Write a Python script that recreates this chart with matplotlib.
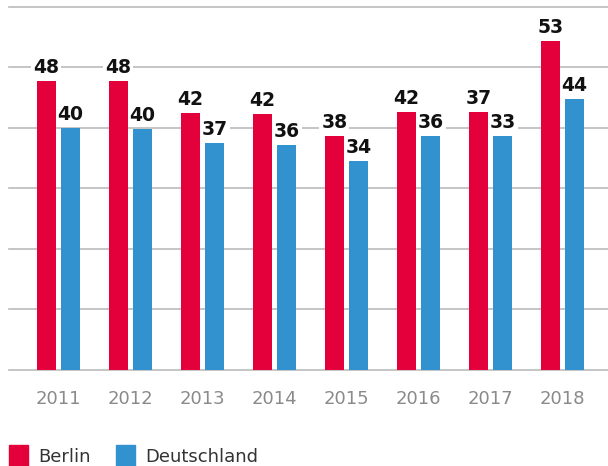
import numpy as np
import matplotlib.pyplot as plt
from matplotlib.patches import Rectangle

jahre = ['2011', '2012', '2013', '2014', '2015', '2016', '2017', '2018']
# Balkenhöhen
berlin_hoehe = [47.7, 47.7, 42.4, 42.2, 38.6, 42.6, 42.6, 54.3]
deutschland_hoehe = [40.0, 39.8, 37.5, 37.1, 34.5, 38.6, 38.6, 44.7]
# Beschriftungen über den Balken
berlin_label = ['48', '48', '42', '42', '38', '42', '37', '53']
deutschland_label = ['40', '40', '37', '36', '34', '36', '33', '44']

rot = '#e4003a'
blau = '#3292d0'

W, H = 608, 466
fig = plt.figure(figsize=(W/100, H/100), dpi=100)
ax = fig.add_axes([9/W, (H-370)/H, (W-9)/W, (370-6.7)/H])

x = np.arange(len(jahre))
b = 0.264
off = 0.168

ax.bar(x - off, berlin_hoehe, width=b, color=rot, zorder=3)
ax.bar(x + off, deutschland_hoehe, width=b, color=blau, zorder=3)

for i in range(len(jahre)):
    ax.text(x[i] - off, berlin_hoehe[i] + 0.7, berlin_label[i], ha='center', va='bottom',
            fontsize=13.5, fontweight='bold', color='#111111', zorder=2.5,
            bbox=dict(facecolor='white', edgecolor='none', pad=1.5))
    ax.text(x[i] + off, deutschland_hoehe[i] + 0.7, deutschland_label[i], ha='center', va='bottom',
            fontsize=13.5, fontweight='bold', color='#111111', zorder=2.5,
            bbox=dict(facecolor='white', edgecolor='none', pad=1.5))

ax.set_ylim(0, 60)
ax.set_xlim(-0.686, 7.633)
ax.set_yticks(np.arange(0, 61, 10))
ax.yaxis.grid(True, color='#bbbbbb', linewidth=1.2, zorder=0)
for gl in ax.get_ygridlines():
    gl.set_clip_on(False)
ax.set_axisbelow(True)
ax.tick_params(left=False, labelleft=False, bottom=False)
for s in ax.spines.values():
    s.set_visible(False)
ax.set_xticks(x)
ax.set_xticklabels(jahre, fontsize=13, color='#8a8a8a')
ax.tick_params(axis='x', pad=11)

# Legende
fig.patches.append(Rectangle((9/W, 0), 19/W, 21/H, transform=fig.transFigure, color=rot))
fig.patches.append(Rectangle((116/W, 0), 19/W, 21/H, transform=fig.transFigure, color=blau))
fig.text(38/W, 4/H, 'Berlin', fontsize=13, color='#333333', va='baseline')
fig.text(145/W, 4/H, 'Deutschland', fontsize=13, color='#333333', va='baseline')

plt.savefig('out.png', dpi=100)
